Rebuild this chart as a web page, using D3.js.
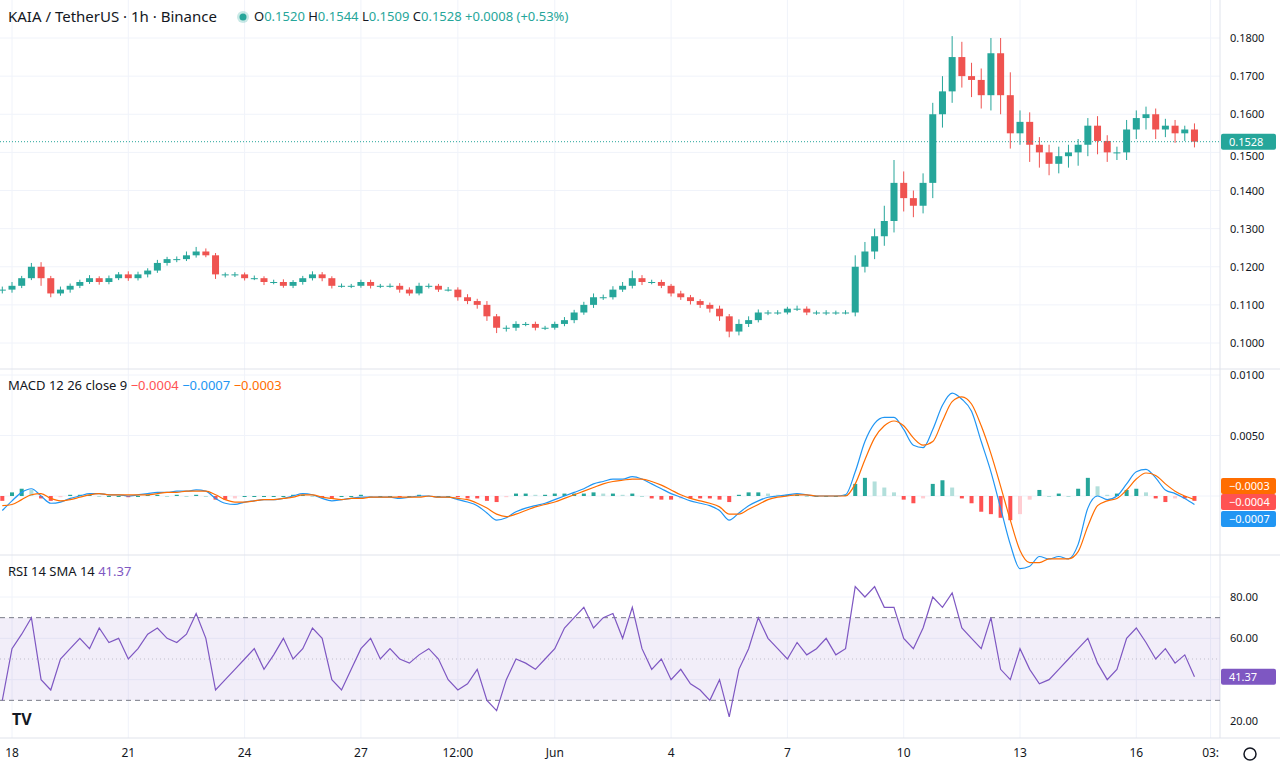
<!DOCTYPE html>
<html>
<head>
<script src="https://cdnjs.cloudflare.com/ajax/libs/d3/7.8.5/d3.min.js"></script>
<style>
  body, html { margin: 0; padding: 0; background: #fff; overflow: hidden; }
  svg { display: block; font-family: "Noto Sans", "DejaVu Sans", sans-serif; }
</style>
</head>
<body>
<svg width="1280" height="768"></svg>
<script>
// 6h candles starting 2025-05-17 18:00, closes
const closes = [
  0.114,0.115,0.117,0.120, 0.117,0.113,0.114,0.115, 0.116,0.117,0.116,0.117,
  0.118,0.117,0.118,0.119, 0.121,0.122,0.122,0.123, 0.124,0.123,0.118,0.118,
  0.118,0.117,0.117,0.116, 0.116,0.115,0.116,0.117, 0.118,0.117,0.115,0.115,
  0.115,0.116,0.115,0.115, 0.115,0.114,0.113,0.115, 0.115,0.114,0.114,0.112,
  0.111,0.110,0.107,0.104, 0.104,0.105,0.105,0.104, 0.104,0.105,0.106,0.108,
  0.110,0.112,0.112,0.114, 0.115,0.117,0.116,0.116, 0.115,0.113,0.112,0.111,
  0.110,0.109,0.107,0.103, 0.105,0.106,0.108,0.108, 0.108,0.109,0.109,0.108,
  0.108,0.108,0.108,0.108, 0.120,0.124,0.128,0.132, 0.142,0.138,0.136,0.142,
  0.160,0.166,0.175,0.170, 0.169,0.165,0.176,0.165, 0.155,0.158,0.152,0.150,
  0.147,0.149,0.150,0.152, 0.157,0.153,0.150,0.150, 0.156,0.159,0.160,0.156,
  0.157,0.155,0.156,0.1528
];
const firstOpen = 0.1140;
// wick lengths above / below the body, in 0.0001 units
const wickUp = [
  8,10,6,10, 12,6,8,6, 6,8,5,7, 6,8,7,6, 8,6,7,10, 12,8,6,5, 6,5,7,5, 6,7,5,6,
  8,6,5,6, 5,6,6,5, 6,7,6,8, 6,5,7,6, 8,6,10,6, 6,7,5,6, 5,6,8,7, 8,10,7,9,
  10,20,8,6, 6,5,7,6, 5,6,8,6, 12,10,8,6, 6,5,8,6, 5,6,5,6, 30,25,20,40,
  60,30,20,25, 30,40,55,40, 35,30,40,40, 60,30,25,20, 20,25,20,15, 20,25,15,15,
  25,20,20,15, 18,15,10,16
];
const wickDn = [
  10,8,6,5, 20,10,6,8, 6,5,7,6, 5,7,6,8, 6,7,8,5, 6,5,12,8, 7,6,5,8, 6,5,6,7,
  6,8,7,5, 6,5,7,6, 5,8,6,5, 7,6,5,9, 8,10,12,14, 10,8,6,7, 6,5,6,8, 6,8,7,6,
  6,7,8,6, 6,8,7,9, 8,10,12,15, 10,8,6,7, 6,5,6,7, 6,7,6,5, 10,15,20,25,
  30,35,30,20, 40,35,30,30, 45,35,40,50, 40,30,45,40, 30,25,30,35, 30,35,25,20,
  20,25,30,25, 20,25,20,15
];
// MACD (12,26,9) and signal, in 0.0001 units
const macdLine = [
  -12,-4,3,6, 0,-6,-5,-2, 0,2,2,1, 1,0,1,2, 3,3,4,4, 5,4,-2,-6, -7,-5,-4,-3,
  -3,-2,0,2, 1,-2,-4,-3, -2,-1,-1,-1, -1,-2,-1,0, 0,-1,-1,-3, -5,-8,-14,-20,
  -18,-13,-10,-8, -6,-3,0,3, 6,10,12,14, 14,16,14,10, 6,2,-1,-4, -6,-8,-12,-20,
  -14,-8,-4,-1, 0,1,2,1, 0,0,0,1, 20,45,60,65, 65,55,42,40, 55,75,85,80,
  70,45,20,-10, -40,-60,-58,-50, -52,-50,-52,-40, -10,0,-3,0, 10,20,22,15,
  5,2,-2,-7
];
const signalLine = [
  -8,-7,-3,1, 2,-2,-4,-3, -1,1,2,1, 1,1,1,1, 2,3,3,4, 4,4,1,-3, -5,-5,-4,-3,
  -3,-2,-1,1, 1,-1,-2,-3, -2,-2,-1,-1, -1,-1,-1,-1, 0,-1,-1,-2, -3,-6,-10,-15,
  -17,-15,-12,-9, -7,-5,-2,1, 4,7,10,12, 13,14,14,12, 9,5,1,-2, -4,-6,-9,-15,
  -15,-11,-7,-3, -1,0,1,1, 0,0,0,0, 10,30,48,58, 62,58,48,42, 45,62,78,82,
  76,58,35,8, -20,-45,-55,-55, -52,-52,-52,-46, -25,-8,-4,-2, 5,14,19,17,
  10,4,0,-3
];
const rsiValues = [
  30,55,62,70, 40,35,50,55, 60,55,65,58, 60,50,55,62, 65,60,58,62, 72,60,35,40,
  45,50,55,45, 52,60,50,55, 65,60,40,35, 45,55,60,50, 55,50,48,52, 55,50,40,35,
  38,45,30,25, 40,50,48,45, 50,55,65,70, 75,65,70,72, 60,75,55,45, 50,40,45,38,
  35,30,40,22, 45,55,70,60, 55,50,58,52, 55,60,52,55, 85,80,85,75, 75,60,55,65,
  80,75,82,65, 60,55,70,45, 40,55,45,38, 40,45,50,55, 60,48,40,45, 60,65,58,50,
  55,48,52,41.37
];
const priceTicks = [0.10,0.11,0.12,0.13,0.14,0.15,0.16,0.17,0.18];
const macdTicks = [0.005, 0.01];
const rsiTicks = [20, 60, 80];
const timeTicks = [
  ["2025-05-18T00:00","18"],["2025-05-21T00:00","21"],["2025-05-24T00:00","24"],
  ["2025-05-27T00:00","27"],["2025-05-29T12:00","12:00"],["2025-06-01T00:00","Jun"],
  ["2025-06-04T00:00","4"],["2025-06-07T00:00","7"],["2025-06-10T00:00","10"],
  ["2025-06-13T00:00","13"],["2025-06-16T00:00","16"],["2025-06-17T22:00","03:"]
];

const UP = "#26a69a", DN = "#ef5350", TXT = "#131722", GRID = "#f0f3fa", BORDER = "#e0e3eb";
const svg = d3.select("svg");
const plotR = 1220;

const t0 = new Date("2025-05-17T18:00");
const times = closes.map((c, i) => new Date(t0.getTime() + i * 6 * 3600e3));
const x = d3.scaleTime()
  .domain([new Date("2025-05-18T00:00"), new Date("2025-06-13T00:00")])
  .range([12, 1020]);

const candles = closes.map((c, i) => {
  const o = i === 0 ? firstOpen : closes[i - 1];
  return { t: times[i], o, c,
    h: Math.max(o, c) + wickUp[i] / 1e4, l: Math.min(o, c) - wickDn[i] / 1e4 };
});

const yP = d3.scaleLinear().domain([0.10, 0.18]).range([343, 38]);
const yM = d3.scaleLinear().domain([0, 0.01]).range([496, 375]);
const yR = d3.scaleLinear().domain([20, 80]).range([721, 597]);

// grid
const grid = svg.append("g");
timeTicks.forEach(([d]) => grid.append("line")
  .attr("x1", x(new Date(d))).attr("x2", x(new Date(d)))
  .attr("y1", 0).attr("y2", 738).attr("stroke", GRID));
priceTicks.forEach(v => grid.append("line").attr("x1", 0).attr("x2", plotR)
  .attr("y1", yP(v)).attr("y2", yP(v)).attr("stroke", GRID));
macdTicks.concat([0]).forEach(v => grid.append("line").attr("x1", 0).attr("x2", plotR)
  .attr("y1", yM(v)).attr("y2", yM(v)).attr("stroke", GRID));
[40, 60, 80].forEach(v => grid.append("line").attr("x1", 0).attr("x2", plotR)
  .attr("y1", yR(v)).attr("y2", yR(v)).attr("stroke", GRID));

// pane borders
[369, 555, 738].forEach(y => svg.append("line").attr("x1", 0).attr("x2", 1280)
  .attr("y1", y).attr("y2", y).attr("stroke", BORDER));
svg.append("line").attr("x1", plotR).attr("x2", plotR).attr("y1", 0).attr("y2", 738).attr("stroke", BORDER);

// candles
const cg = svg.append("g");
candles.forEach(d => {
  const col = d.c >= d.o ? UP : DN, cx = x(d.t);
  cg.append("line").attr("x1", cx).attr("x2", cx).attr("y1", yP(d.h)).attr("y2", yP(d.l)).attr("stroke", col);
  const top = yP(Math.max(d.o, d.c)), bot = yP(Math.min(d.o, d.c));
  cg.append("rect").attr("x", cx - 3.5).attr("width", 7).attr("y", top)
    .attr("height", Math.max(1, bot - top)).attr("fill", col);
});
const last = closes[closes.length - 1];
svg.append("line").attr("x1", 0).attr("x2", plotR).attr("y1", yP(last)).attr("y2", yP(last))
  .attr("stroke", UP).attr("stroke-dasharray", "1,2");

// MACD
const hist = macdLine.map((m, i) => (m - signalLine[i]) / 1e4);
svg.append("g").selectAll("rect").data(hist).join("rect")
  .attr("x", (d, i) => x(times[i]) - 2).attr("width", 4)
  .attr("y", d => Math.min(yM(d), yM(0))).attr("height", d => Math.max(1, Math.abs(yM(d) - yM(0))))
  .attr("fill", (d, i) => {
    const prev = i ? hist[i - 1] : 0;
    if (d >= 0) return d >= prev ? "#26a69a" : "#b2dfdb";
    return d <= prev ? "#ff5252" : "#ffcdd2";
  });
const mline = d3.line().x((d, i) => x(times[i])).y(d => yM(d / 1e4)).curve(d3.curveMonotoneX);
svg.append("path").attr("d", mline(macdLine)).attr("fill", "none").attr("stroke", "#2196f3").attr("stroke-width", 1.2);
svg.append("path").attr("d", mline(signalLine)).attr("fill", "none").attr("stroke", "#ff6d00").attr("stroke-width", 1.2);

// RSI
svg.append("rect").attr("x", 0).attr("width", plotR).attr("y", yR(70)).attr("height", yR(30) - yR(70))
  .attr("fill", "#7e57c2").attr("fill-opacity", 0.1);
[70, 30].forEach(v => svg.append("line").attr("x1", 0).attr("x2", plotR).attr("y1", yR(v)).attr("y2", yR(v))
  .attr("stroke", "#787b86").attr("stroke-dasharray", "5,4"));
svg.append("line").attr("x1", 0).attr("x2", plotR).attr("y1", yR(50)).attr("y2", yR(50))
  .attr("stroke", "#787b86").attr("stroke-opacity", 0.4).attr("stroke-dasharray", "1,3");
svg.append("path").attr("d", d3.line().x((d, i) => x(times[i])).y(d => yR(d))(rsiValues))
  .attr("fill", "none").attr("stroke", "#7e57c2").attr("stroke-width", 1.2);

// right axes (0.1500 sits under the last-price tag, as in the original)
const ax = svg.append("g").attr("font-size", 11).attr("fill", TXT);
priceTicks.filter(v => Math.abs(yP(v) - yP(closes[closes.length - 1])) > 12)
  .forEach(v => ax.append("text").attr("x", 1230).attr("y", yP(v) + 4).text(v.toFixed(4)));
macdTicks.forEach(v => ax.append("text").attr("x", 1230).attr("y", yM(v) + 4).text(v.toFixed(4)));
rsiTicks.forEach(v => ax.append("text").attr("x", 1230).attr("y", yR(v) + 4).text(v.toFixed(2)));

function tag(y, txt, col) {
  svg.append("rect").attr("x", 1221).attr("y", y - 8).attr("width", 55).attr("height", 16).attr("rx", 2).attr("fill", col);
  svg.append("text").attr("x", 1229).attr("y", y + 4).attr("font-size", 11).attr("fill", "#fff").text(txt);
}
tag(yP(last), last.toFixed(4), UP);
svg.append("text").attr("x", 1230).attr("y", yP(0.15) + 8).attr("font-size", 11).attr("fill", TXT)
  .attr("clip-path", "inset(3px 0 0 0)").text("0.1500");
tag(486, "−0.0003", "#ff6d00");
tag(502, "−0.0004", "#ff5252");
tag(519, "−0.0007", "#2196f3");
tag(yR(rsiValues[rsiValues.length - 1]), rsiValues[rsiValues.length - 1].toFixed(2), "#7e57c2");

// time axis
timeTicks.forEach(([d, lab]) => svg.append("text").attr("x", x(new Date(d))).attr("y", 757)
  .attr("text-anchor", "middle").attr("font-size", 12).attr("fill", TXT).text(lab));

// legends
const hdr = svg.append("text").attr("x", 8).attr("y", 22).attr("font-size", 15).attr("fill", TXT);
hdr.text("KAIA / TetherUS · 1h · Binance");
svg.append("circle").attr("cx", 243).attr("cy", 17).attr("r", 6).attr("fill", UP).attr("fill-opacity", 0.25);
svg.append("circle").attr("cx", 243).attr("cy", 17).attr("r", 3.5).attr("fill", UP);
const ohlc = svg.append("text").attr("x", 254).attr("y", 21).attr("font-size", 13);
[["O", "0.1520"], ["H", "0.1544"], ["L", "0.1509"], ["C", "0.1528"]].forEach(([k, v]) => {
  ohlc.append("tspan").attr("fill", TXT).text(k);
  ohlc.append("tspan").attr("fill", UP).text(v + "  ");
});
ohlc.append("tspan").attr("fill", UP).text("+0.0008 (+0.53%)");

const ml = svg.append("text").attr("x", 8).attr("y", 390).attr("font-size", 13).attr("fill", TXT);
ml.append("tspan").text("MACD 12 26 close 9  ");
ml.append("tspan").attr("fill", "#ff5252").text("−0.0004 ");
ml.append("tspan").attr("fill", "#2196f3").text("−0.0007 ");
ml.append("tspan").attr("fill", "#ff6d00").text("−0.0003");

const rl = svg.append("text").attr("x", 8).attr("y", 576).attr("font-size", 13).attr("fill", TXT);
rl.append("tspan").text("RSI 14 SMA 14  ");
rl.append("tspan").attr("fill", "#7e57c2").text("41.37");

// logo and gear
svg.append("text").attr("x", 12).attr("y", 725).attr("font-size", 16).attr("font-weight", "bold").attr("fill", TXT).text("TV");
svg.append("circle").attr("cx", 1250).attr("cy", 754).attr("r", 6).attr("fill", "none").attr("stroke", TXT).attr("stroke-width", 1.5);
</script>
</body>
</html>
